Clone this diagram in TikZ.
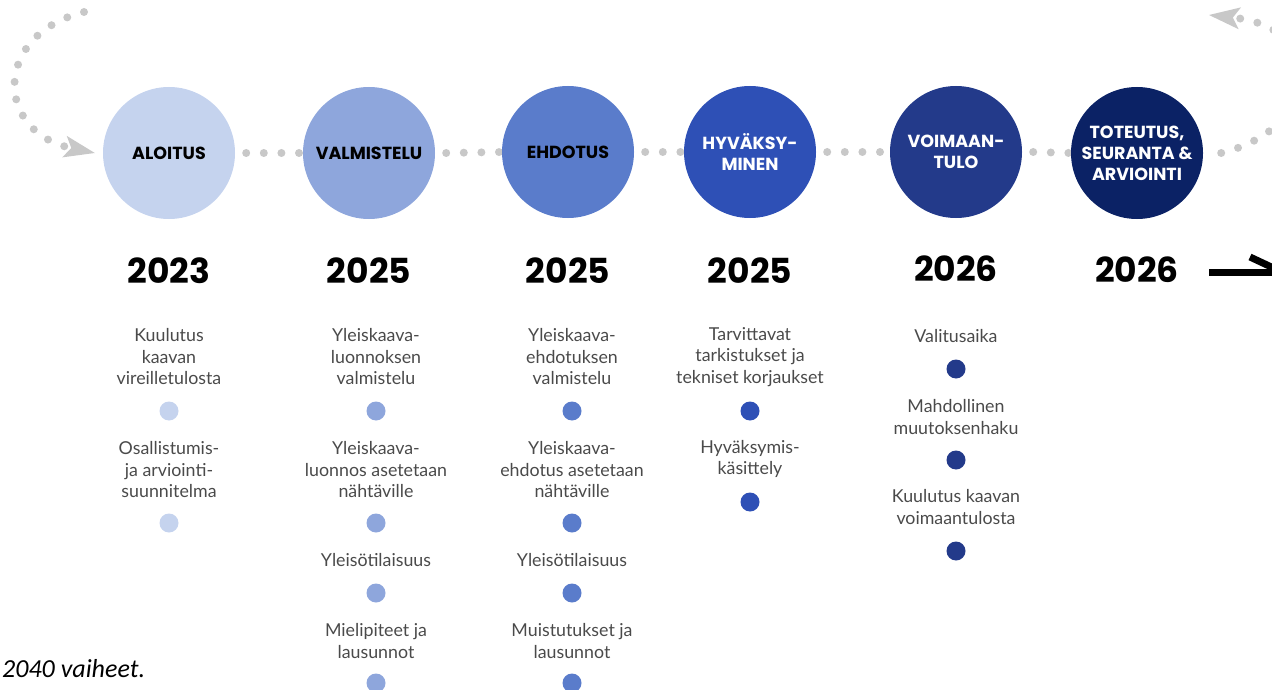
\documentclass[tikz,border=0pt]{standalone}
\usepackage{fontspec}
\setmainfont{Lato}
\newfontfamily\yearfont{Poppins}
\newfontfamily\capfont{Carlito}
\usetikzlibrary{arrows.meta,backgrounds}
\definecolor{c1}{HTML}{C5D3EE}
\definecolor{c2}{HTML}{8EA6DC}
\definecolor{c3}{HTML}{5A7CCB}
\definecolor{c4}{HTML}{2E50B6}
\definecolor{c5}{HTML}{233A8A}
\definecolor{c6}{HTML}{0B2265}
\definecolor{dotgray}{HTML}{C8C8C8}
\definecolor{txt}{HTML}{4A4A4A}
\tikzset{
  phase/.style={circle, minimum size=132pt, inner sep=0pt, align=center,
    font=\yearfont\bfseries\fontsize{17.5}{21}\selectfont},
  year/.style={inner sep=0pt, font=\yearfont\bfseries\fontsize{34.5}{38}\selectfont},
  desc/.style={inner sep=0pt, align=center, text=txt, font=\fontsize{17.8}{21.5}\selectfont},
  mile/.style={circle, minimum size=19pt, inner sep=0pt},
  link/.style={dotgray, line width=8pt, line cap=round, dash pattern=on 0pt off 17.6pt},
  looptip/.style={-{Stealth[length=31pt, width=22pt, inset=7pt, line width=0pt]}},
}
\begin{document}
\begin{tikzpicture}[x=1pt,y=-1pt]
\useasboundingbox (0,0) rectangle (1272,690);
\clip (0,0) rectangle (1272,690);

% phases
\node[phase, fill=c1, text=black] (alo) at (169,153) {ALOITUS};
\node[phase, fill=c2, text=black] (val) at (369,153) {VALMISTELU};
\node[phase, fill=c3, text=black] (ehd) at (568,152) {EHDOTUS};
\node[phase, fill=c4, text=white] (hyv) at (750,152) {HYVÄKSY-\\MINEN};
\node[phase, fill=c5, text=white] (voi) at (956,152) {VOIMAAN-\\TULO};
\node[phase, fill=c6, text=white] (tot) at (1137,153) {TOTEUTUS,\\SEURANTA \&\\ARVIOINTI};

\begin{scope}[on background layer]
  \draw[link] ([xshift=11pt]alo.east) -- (val.west);
  \draw[link] ([xshift=11pt]val.east) -- (ehd.west);
  \draw[link] ([xshift=11pt]ehd.east) -- (hyv.west);
  \draw[link] ([xshift=11pt]hyv.east) -- (voi.west);
  \draw[link] ([xshift=11pt]voi.east) -- (tot.west);
\end{scope}

% loop back arcs
\draw[link, looptip] ([xshift=18pt]tot.east) .. controls (1322,128) and (1330,28) .. (1209,15);
\draw[link, looptip] (84,12) .. controls (-8,35) and (-5,132) .. ([xshift=-8pt]alo.west);

% years
\node[year] (y1) at (169,271) {2023};
\node[year] (y2) at (369,271) {2025};
\node[year] (y3) at (568,271) {2025};
\node[year] (y4) at (750,271) {2025};
\node[year] (y5) at (956,269) {2026};
\node[year] (y6) at (1137,270) {2026};

% arrow after last year
\coordinate (arS) at (1209,272);
\coordinate (arE) at (1282,272);
\coordinate (arB) at (1250,257);
\draw[line width=7pt] (arS) -- (arE);
\draw[line width=7pt] (arB) -- (arE);

% column 1
\node[desc] (t11) at (169,357) {Kuulutus\\kaavan\\vireilletulosta};
\node[mile, fill=c1] (m11) at (169,411) {};
\node[desc] (t12) at (169,470) {Osallistumis-\\ja arviointi-\\suunnitelma};
\node[mile, fill=c1] (m12) at (169,523) {};

% column 2
\node[desc] (t21) at (376,357) {Yleiskaava-\\luonnoksen\\valmistelu};
\node[mile, fill=c2] (m21) at (376,411) {};
\node[desc] (t22) at (376,470) {Yleiskaava-\\luonnos asetetaan\\nähtäville};
\node[mile, fill=c2] (m22) at (376,523) {};
\node[desc] (t23) at (376,560) {Yleisötilaisuus};
\node[mile, fill=c2] (m23) at (376,593) {};
\node[desc] (t24) at (376,641) {Mielipiteet ja\\lausunnot};
\node[mile, fill=c2] (m24) at (376,683) {};

% column 3
\node[desc] (t31) at (572,357) {Yleiskaava-\\ehdotuksen\\valmistelu};
\node[mile, fill=c3] (m31) at (572,411) {};
\node[desc] (t32) at (572,470) {Yleiskaava-\\ehdotus asetetaan\\nähtäville};
\node[mile, fill=c3] (m32) at (572,523) {};
\node[desc] (t33) at (572,560) {Yleisötilaisuus};
\node[mile, fill=c3] (m33) at (572,593) {};
\node[desc] (t34) at (572,641) {Muistutukset ja\\lausunnot};
\node[mile, fill=c3] (m34) at (572,683) {};

% column 4
\node[desc] (t41) at (750,357) {Tarvittavat\\tarkistukset ja\\tekniset korjaukset};
\node[mile, fill=c4] (m41) at (750,411) {};
\node[desc] (t42) at (750,459) {Hyväksymis-\\käsittely};
\node[mile, fill=c4] (m42) at (750,502) {};

% column 5
\node[desc] (t51) at (956,336) {Valitusaika};
\node[mile, fill=c5] (m51) at (956,369) {};
\node[desc] (t52) at (956,417) {Mahdollinen\\muutoksenhaku};
\node[mile, fill=c5] (m52) at (956,460) {};
\node[desc] (t53) at (956,507) {Kuulutus kaavan\\voimaantulosta};
\node[mile, fill=c5] (m53) at (956,551) {};

% caption
\node[anchor=west, inner sep=0pt, font=\capfont\itshape\fontsize{26}{30}\selectfont] (cap) at (2,669) {2040 vaiheet.};
\end{tikzpicture}
\end{document}
